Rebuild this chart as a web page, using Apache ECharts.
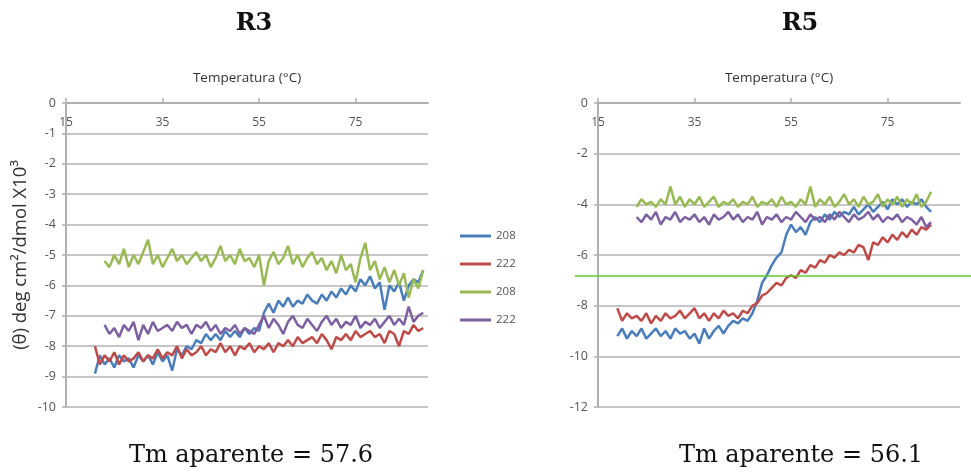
<!DOCTYPE html>
<html>
<head>
<meta charset="utf-8">
<script src="https://cdn.jsdelivr.net/npm/echarts@6/dist/echarts.min.js"></script>
<style>
html,body{margin:0;padding:0;background:#fff;}
#c{width:971px;height:474px;}
</style>
</head>
<body>
<div id="c"></div>
<script>
// ---------- data ----------
const PANEL_TITLES = ['R3', 'R5'];
const TM_TEXTS = ['Tm aparente = 57.6', 'Tm aparente = 56.1'];
const X_NAME = 'Temperatura (°C)';
const Y_NAME = '(θ) deg cm²/dmol X10³';
const X_TICKS = [15, 35, 55, 75];
const LEGEND_LABELS = ['208', '222', '208', '222'];
const R5_GUIDE = -6.8;

// R3 temperatures
const T_R3_A = [21,22,23,24,25,26,27,28,29,30,31,32,33,34,35,36,37,38,39,40,41,42,43,44,45,46,47,48,49,50,51,52,53,54,55,56,57,58,59,60,61,62,63,64,65,66,67,68,69,70,71,72,73,74,75,76,77,78,79,80,81,82,83,84,85,86,87,88,89];
const T_R3_B = [23,24,25,26,27,28,29,30,31,32,33,34,35,36,37,38,39,40,41,42,43,44,45,46,47,48,49,50,51,52,53,54,55,56,57,58,59,60,61,62,63,64,65,66,67,68,69,70,71,72,73,74,75,76,77,78,79,80,81,82,83,84,85,86,87,88,89];

const R3_208_A = [-8.9,-8.3,-8.6,-8.4,-8.7,-8.3,-8.5,-8.4,-8.7,-8.3,
  -8.5,-8.3,-8.6,-8.2,-8.5,-8.3,-8.8,-8.1,-8.3,-8.0,
  -8.1,-7.8,-7.9,-7.6,-7.8,-7.6,-7.8,-7.5,-7.7,-7.5,
  -7.7,-7.4,-7.6,-7.4,-7.5,-6.9,-6.6,-6.9,-6.5,-6.7,
  -6.4,-6.7,-6.5,-6.6,-6.3,-6.5,-6.6,-6.3,-6.5,-6.2,
  -6.4,-6.1,-6.3,-6.0,-6.2,-5.8,-6.0,-5.7,-6.1,-5.9,
  -6.8,-6.0,-6.2,-5.9,-6.5,-6.0,-5.8,-5.9,-5.5];
const R3_222_A = [-8.0,-8.6,-8.3,-8.5,-8.2,-8.6,-8.3,-8.5,-8.4,-8.2,
  -8.5,-8.3,-8.4,-8.1,-8.4,-8.2,-8.3,-8.0,-8.4,-8.1,
  -8.3,-8.2,-8.0,-8.3,-8.1,-8.2,-7.9,-8.2,-8.0,-8.3,
  -8.0,-8.1,-7.9,-8.2,-8.0,-8.1,-7.9,-8.2,-7.9,-8.0,
  -7.8,-8.0,-7.7,-7.9,-7.8,-7.7,-7.9,-7.6,-7.8,-8.1,
  -7.7,-7.8,-7.6,-7.8,-7.5,-7.7,-7.6,-7.5,-7.7,-7.6,
  -7.9,-7.5,-7.6,-8.0,-7.5,-7.6,-7.3,-7.5,-7.4];
const R3_208_B = [-5.2,-5.4,-5.0,-5.3,-4.8,-5.4,-5.0,-5.3,-4.9,-4.5,
  -5.3,-5.0,-5.4,-5.1,-4.8,-5.2,-5.0,-5.3,-5.1,-4.9,
  -5.2,-5.0,-5.4,-5.1,-4.7,-5.2,-5.0,-5.3,-4.8,-5.2,
  -5.1,-5.4,-5.0,-6.0,-5.2,-4.9,-5.3,-5.1,-4.7,-5.3,
  -5.0,-5.4,-5.1,-4.9,-5.3,-5.1,-5.5,-5.2,-5.6,-5.0,
  -5.5,-5.3,-5.9,-5.1,-4.6,-5.5,-5.2,-5.8,-5.4,-5.9,
  -5.5,-6.0,-5.6,-6.4,-5.8,-6.1,-5.5];
const R3_222_B = [-7.3,-7.6,-7.4,-7.7,-7.3,-7.5,-7.2,-7.8,-7.3,-7.6,
  -7.2,-7.5,-7.4,-7.3,-7.5,-7.2,-7.4,-7.3,-7.6,-7.3,
  -7.4,-7.2,-7.5,-7.3,-7.6,-7.4,-7.5,-7.3,-7.6,-7.4,
  -7.5,-7.6,-7.3,-7.0,-7.4,-7.1,-7.3,-7.6,-7.2,-7.0,
  -7.3,-7.4,-7.1,-7.3,-7.5,-7.2,-7.0,-7.3,-7.1,-7.4,
  -7.2,-7.3,-7.0,-7.4,-7.2,-7.3,-7.1,-7.4,-7.2,-7.0,
  -7.3,-7.1,-7.3,-6.7,-7.2,-7.0,-6.9];

// R5 temperatures
const T_R5_A = [19,20,21,22,23,24,25,26,27,28,29,30,31,32,33,34,35,36,37,38,39,40,41,42,43,44,45,46,47,48,49,50,51,52,53,54,55,56,57,58,59,60,61,62,63,64,65,66,67,68,69,70,71,72,73,74,75,76,77,78,79,80,81,82,83,84];
const T_R5_B = [23,24,25,26,27,28,29,30,31,32,33,34,35,36,37,38,39,40,41,42,43,44,45,46,47,48,49,50,51,52,53,54,55,56,57,58,59,60,61,62,63,64,65,66,67,68,69,70,71,72,73,74,75,76,77,78,79,80,81,82,83,84];

const R5_208_A = [-9.2,-8.9,-9.3,-9.0,-9.2,-8.9,-9.3,-9.1,-8.9,-9.2,
  -9.0,-9.3,-8.9,-9.1,-9.0,-9.3,-9.1,-9.5,-8.9,-9.3,
  -9.0,-8.8,-9.1,-8.8,-8.6,-8.7,-8.5,-8.6,-8.3,-7.8,
  -7.1,-6.8,-6.4,-6.1,-5.9,-5.2,-4.8,-5.1,-4.9,-5.2,
  -4.7,-4.5,-4.7,-4.4,-4.6,-4.3,-4.5,-4.3,-4.4,-4.1,
  -4.4,-4.2,-4.0,-4.3,-4.1,-3.9,-4.2,-3.8,-4.0,-3.8,
  -4.1,-3.9,-4.0,-3.8,-4.1,-4.3];
const R5_222_A = [-8.1,-8.6,-8.3,-8.5,-8.4,-8.6,-8.3,-8.7,-8.4,-8.6,
  -8.3,-8.5,-8.4,-8.2,-8.5,-8.3,-8.1,-8.5,-8.3,-8.6,
  -8.3,-8.5,-8.2,-8.4,-8.3,-8.5,-8.2,-8.3,-8.0,-7.9,
  -7.6,-7.5,-7.3,-7.1,-7.2,-6.9,-6.8,-6.9,-6.6,-6.7,
  -6.4,-6.5,-6.2,-6.3,-6.0,-6.1,-5.9,-6.0,-5.8,-5.9,
  -5.6,-5.7,-6.2,-5.5,-5.6,-5.3,-5.5,-5.2,-5.4,-5.1,
  -5.3,-5.0,-5.2,-4.9,-5.0,-4.8];
const R5_208_B = [-4.1,-3.8,-4.0,-3.9,-4.1,-3.8,-4.0,-3.3,-4.0,-3.7,
  -4.1,-3.8,-4.0,-3.7,-4.1,-3.9,-3.7,-4.1,-3.9,-4.0,
  -3.8,-4.1,-3.9,-4.0,-3.7,-4.1,-3.9,-4.0,-3.8,-4.1,
  -3.7,-4.0,-3.9,-4.1,-3.8,-4.0,-3.3,-4.1,-3.8,-4.0,
  -3.7,-4.1,-3.9,-3.6,-4.0,-3.8,-4.1,-3.7,-4.0,-3.9,
  -3.6,-4.1,-3.8,-4.0,-3.7,-4.1,-3.8,-4.0,-3.6,-4.1,
  -3.9,-3.5];
const R5_222_B = [-4.5,-4.7,-4.4,-4.6,-4.3,-4.8,-4.5,-4.6,-4.3,-4.7,
  -4.5,-4.6,-4.4,-4.7,-4.5,-4.8,-4.4,-4.6,-4.5,-4.3,
  -4.6,-4.4,-4.7,-4.5,-4.6,-4.3,-4.8,-4.5,-4.6,-4.4,
  -4.7,-4.5,-4.6,-4.3,-4.5,-4.7,-4.4,-4.6,-4.5,-4.7,
  -4.4,-4.6,-4.3,-4.5,-4.7,-4.4,-4.6,-4.5,-4.3,-4.6,
  -4.4,-4.7,-4.5,-4.6,-4.4,-4.7,-4.5,-4.6,-4.8,-4.5,
  -4.9,-4.7];

// ---------- styling ----------
const COLORS = ['#4A7EBB', '#BE4B48', '#98B954', '#7D60A0'];
const GRID_COLOR = '#c6c6c6';
const LABEL_COLOR = '#555555';
const SANS = 'Open Sans';

const zip = (t, v) => t.map((x, i) => [x, v[i]]);

function xAxisFor(gridIndex, showName) {
  return {
    type: 'value', gridIndex, position: 'top', min: 15, max: 90, interval: 20,
    name: showName ? X_NAME : '', nameLocation: 'middle', nameGap: 18,
    nameTextStyle: { fontFamily: SANS, fontSize: 13.5, color: '#333' },
    axisLine: { show: true, onZero: false, lineStyle: { color: '#b0b0b0', width: 2 } },
    axisTick: { show: true, inside: false, length: 5, customValues: X_TICKS, lineStyle: { color: '#b0b0b0', width: 1.5 } },
    axisLabel: { show: true, inside: true, margin: 14, customValues: X_TICKS, fontFamily: SANS, fontSize: 12, color: LABEL_COLOR },
    splitLine: { show: false }
  };
}
function yAxisFor(gridIndex, min, interval, name) {
  return {
    type: 'value', gridIndex, min, max: 0, interval,
    name: name, nameLocation: 'middle', nameRotate: 90, nameGap: 36,
    nameTextStyle: { fontFamily: SANS, fontSize: 18.5, color: '#333' },
    axisLine: { show: true, onZero: false, lineStyle: { color: '#b0b0b0', width: 2 } },
    axisTick: { show: true, length: 4, lineStyle: { color: '#b0b0b0', width: 1.5 } },
    axisLabel: { margin: 10, fontFamily: SANS, fontSize: 12.5, color: LABEL_COLOR },
    splitLine: { show: true, lineStyle: { color: GRID_COLOR, width: 2 } }
  };
}
function lineSeries(id, xi, yi, data, color) {
  return {
    id, name: id, type: 'line', xAxisIndex: xi, yAxisIndex: yi, data,
    showSymbol: false, symbol: 'none', smooth: false, animation: false,
    lineStyle: { color, width: 2.5 }, itemStyle: { color }
  };
}

const chart = echarts.init(document.getElementById('c'), null, { renderer: 'canvas' });
const left3 = ['r3_208a', 'r3_222a', 'r3_208b', 'r3_222b'];

const option = {
  animation: false,
  backgroundColor: '#ffffff',
  grid: [
    { left: 66, top: 103, width: 362, height: 304 },
    { left: 598, top: 103, width: 362, height: 304 },
    { left: 575, top: 103, right: 0, height: 304 }
  ],
  xAxis: [
    xAxisFor(0, true),
    xAxisFor(1, true),
    { type: 'value', gridIndex: 2, min: 0, max: 1, show: false }
  ],
  yAxis: [
    yAxisFor(0, -10, 1, Y_NAME),
    yAxisFor(1, -12, 2, ''),
    { type: 'value', gridIndex: 2, min: -12, max: 0, show: false }
  ],
  legend: {
    data: left3, orient: 'vertical', left: 455, top: 223,
    icon: 'rect', itemWidth: 31, itemHeight: 3, itemGap: 12,
    formatter: (n) => LEGEND_LABELS[left3.indexOf(n)],
    textStyle: { fontFamily: SANS, fontSize: 11.5, color: LABEL_COLOR, lineHeight: 16 }
  },
  series: [
    lineSeries('r3_208a', 0, 0, zip(T_R3_A, R3_208_A), COLORS[0]),
    lineSeries('r3_222a', 0, 0, zip(T_R3_A, R3_222_A), COLORS[1]),
    lineSeries('r3_208b', 0, 0, zip(T_R3_B, R3_208_B), COLORS[2]),
    lineSeries('r3_222b', 0, 0, zip(T_R3_B, R3_222_B), COLORS[3]),
    lineSeries('r5_208a', 1, 1, zip(T_R5_A, R5_208_A), COLORS[0]),
    lineSeries('r5_222a', 1, 1, zip(T_R5_A, R5_222_A), COLORS[1]),
    lineSeries('r5_208b', 1, 1, zip(T_R5_B, R5_208_B), COLORS[2]),
    lineSeries('r5_222b', 1, 1, zip(T_R5_B, R5_222_B), COLORS[3]),
    {
      type: 'line', xAxisIndex: 2, yAxisIndex: 2, data: [], silent: true,
      markLine: {
        silent: true, symbol: ['none', 'none'], label: { show: false },
        lineStyle: { color: '#62cc2e', width: 1.5, type: 'solid' },
        data: [{ yAxis: R5_GUIDE }]
      }
    }
  ],
  graphic: [
    { type: 'text', x: 254, y: 24, style: { text: PANEL_TITLES[0], font: 'bold 24px "DejaVu Serif"', fill: '#111', textAlign: 'center', textVerticalAlign: 'middle' } },
    { type: 'text', x: 800, y: 24, style: { text: PANEL_TITLES[1], font: 'bold 24px "DejaVu Serif"', fill: '#111', textAlign: 'center', textVerticalAlign: 'middle' } },
    { type: 'text', x: 251, y: 456, style: { text: TM_TEXTS[0], font: '24px "DejaVu Serif"', fill: '#111', textAlign: 'center', textVerticalAlign: 'middle' } },
    { type: 'text', x: 801, y: 456, style: { text: TM_TEXTS[1], font: '24px "DejaVu Serif"', fill: '#111', textAlign: 'center', textVerticalAlign: 'middle' } }
  ]
};
chart.setOption(option);
</script>
</body>
</html>
